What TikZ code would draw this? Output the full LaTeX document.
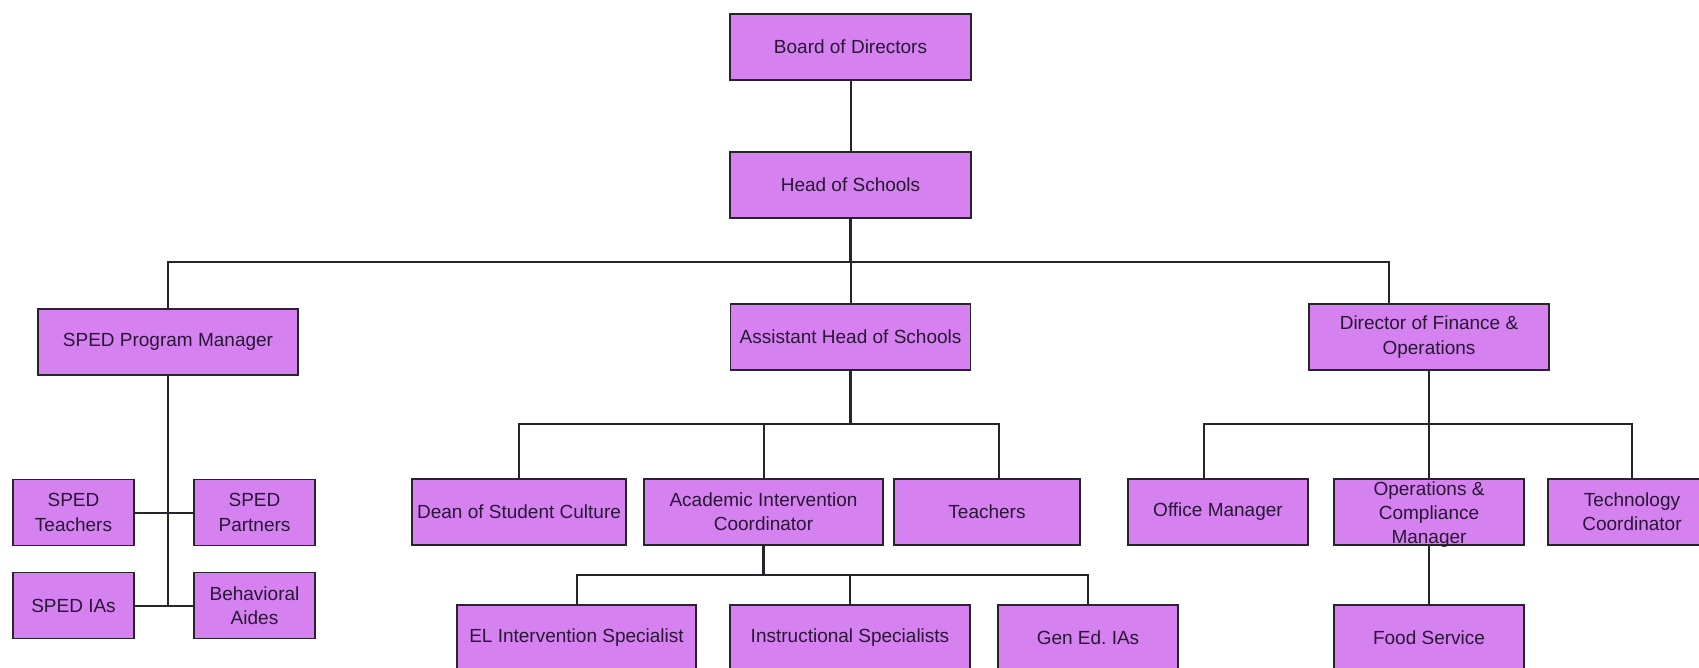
\documentclass[tikz,border=0pt]{standalone}
\usepackage{fontspec}
\setmainfont{Liberation Sans}
\usetikzlibrary{positioning}
\definecolor{unitfill}{RGB}{213,130,240}
\definecolor{unitline}{RGB}{40,36,44}
\definecolor{unitink}{RGB}{40,22,52}
\tikzset{
  unit/.style={
    draw=unitline,
    line width=1.8pt,
    fill=unitfill,
    inner sep=1pt,
    minimum height=66pt,
    align=center,
    text=unitink,
    font=\fontsize{19}{24.4}\selectfont
  },
  unittext/.style={
    align=center,
    inner sep=0pt,
    text=unitink,
    font=\fontsize{19}{24.4}\selectfont
  },
  link/.style={draw=unitline, line width=2pt},
  stem/.style={draw=unitline, line width=2.6pt}
}

\begin{document}
\begin{tikzpicture}[x=1pt, y=-1pt]
  \clip (0,0) rectangle (1699,668);
  \fill[white] (0,0) rectangle (1699,668);

  % top of the chart
  \node[unit, minimum width=241pt] (board) at (850.5,47) {Board of Directors};
  \node[unit, minimum width=241pt] (head) at (850.5,185) {Head of Schools};

  % second level
  \node[unit, minimum width=260pt] (sped) at (168,342) {SPED Program Manager};
  \node[unit, minimum width=240pt] (asst) at (850.5,337) {Assistant Head of Schools};
  \node[unit, minimum width=240pt] (fin) at (1429,337) {Director of Finance \&\\Operations};

  % SPED team
  \node[unit, minimum width=121pt] (spedt) at (73.5,512.5) {SPED\\Teachers};
  \node[unit, minimum width=121pt] (spedp) at (254.5,512.5) {SPED\\Partners};
  \node[unit, minimum width=121pt] (spedi) at (73.5,605.5) {SPED IAs};
  \node[unit, minimum width=121pt] (behav) at (254.5,605.5) {Behavioral\\Aides};

  % academic team
  \node[unit, minimum width=214pt] (dean) at (519,512) {Dean of Student Culture};
  \node[unit, minimum width=239pt] (aic) at (763.5,512) {Academic Intervention\\Coordinator};
  \node[unit, minimum width=186pt] (teach) at (987,512) {Teachers};
  \node[unit, minimum width=239pt] (el) at (576.5,638) {EL Intervention Specialist};
  \node[unit, minimum width=240pt] (instr) at (850,638) {Instructional Specialists};
  \node[unit, minimum width=180pt] (gened) at (1088,638) {Gen Ed.\ IAs};

  % operations team
  \node[unit, minimum width=168pt] (tech) at (1632,512) {Technology\\Coordinator};
  \node[unit, minimum width=180pt] (office) at (1218,512) {Office Manager};
  \node[unit, minimum width=190pt,
    label={[unittext, yshift=-2.5pt]center:Operations \&\\Compliance\\Manager}] (ocm) at (1429,512) {};
  \node[unit, minimum width=190pt] (food) at (1429,638) {Food Service};

  \coordinate (topbus) at (850.5,262);
  \coordinate (asstbus) at (850.5,424);
  \coordinate (finbus) at (1429,424);
  \coordinate (aicbus) at (763.5,575);
  \coordinate (spedend) at (168,605.5);

  \draw[link] (board) -- (head);
  \draw[stem] (head.south) -- (topbus);
  \draw[link] (sped.north) |- (topbus) -| ([xshift=-40pt]fin.north);
  \draw[link] (topbus) -- (asst.north);

  \draw[link] (sped.south) -- (spedend);
  \draw[link] (spedt.east) -- (spedp.west);
  \draw[link] (spedi.east) -- (behav.west);

  \draw[stem] (asst.south) -- (asstbus);
  \draw[link] (dean.north) |- (asstbus) -| ([xshift=12pt]teach.north);
  \draw[link] (aic.north) -- (aic.north |- asstbus);

  \draw[stem] (aic.south) -- (aicbus);
  \draw[link] (el.north) |- (aicbus) -| (gened.north);
  \draw[link] (instr.north) -- (instr.north |- aicbus);

  \draw[stem] (fin.south) -- (finbus);
  \draw[link] ([xshift=-14pt]office.north) |- (finbus) -| (tech.north);
  \draw[link] (finbus) -- (ocm.north);
  \draw[link] (ocm.south) -- (food.north);
\end{tikzpicture}
\end{document}
